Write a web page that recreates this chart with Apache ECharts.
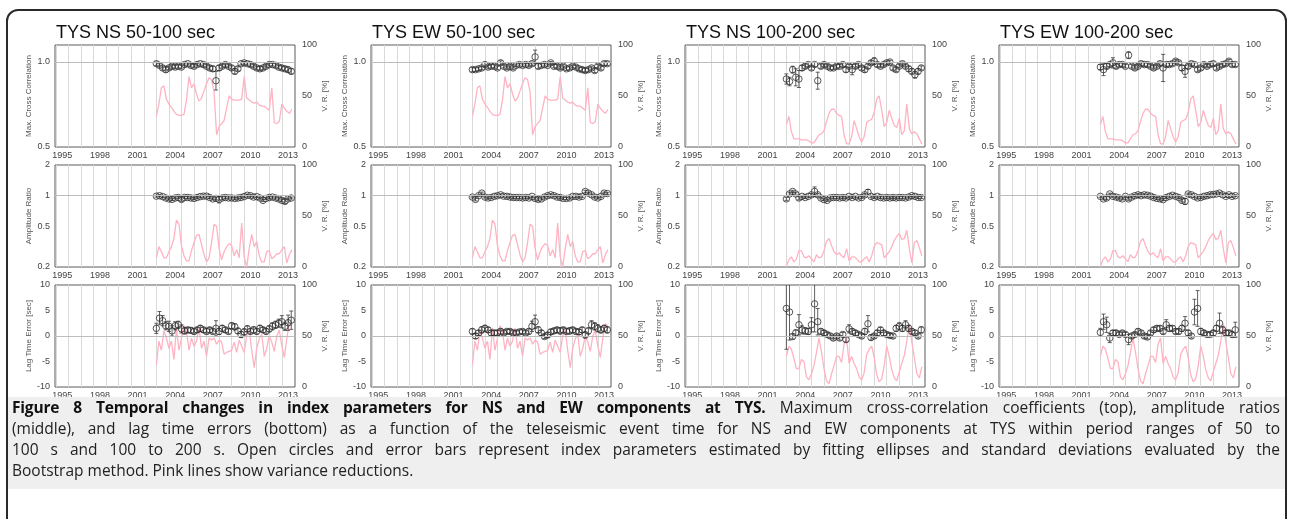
<!DOCTYPE html>
<html>
<head>
<meta charset="utf-8">
<script src="https://cdn.jsdelivr.net/npm/echarts@6/dist/echarts.min.js"></script>
<style>
  html, body { margin: 0; padding: 0; background: #fff; width: 1289px; height: 519px; overflow: hidden; }
  #frame { position: absolute; left: 6px; top: 9px; width: 1281px; height: 620px; border: 2px solid #2a2a2a; border-radius: 12px; box-sizing: border-box; }
  #chart { position: absolute; left: 0; top: 0; width: 1289px; height: 400px; }
  #caption { position: absolute; left: 8px; top: 397px; width: 1277px; height: 92px; background: #efefef;
             font-family: "Open Sans", "Liberation Sans", sans-serif; font-size: 15.5px; line-height: 21px; color: #222;
             box-sizing: border-box; padding: 0 5px 0 4px; }
  #caption div { text-align: justify; text-align-last: justify; white-space: normal; }
  #caption div.last { text-align-last: left; }
  #caption b { color: #111; letter-spacing: -0.2px; }
</style>
</head>
<body>
<div id="frame"></div>
<div id="chart"></div>
<div id="caption">
  <div><b>Figure 8 Temporal changes in index parameters for NS and EW components at TYS.</b> Maximum cross-correlation coefficients (top), amplitude ratios</div>
  <div>(middle), and lag time errors (bottom) as a function of the teleseismic event time for NS and EW components at TYS within period ranges of 50 to</div>
  <div>100 s and 100 to 200 s. Open circles and error bars represent index parameters estimated by fitting ellipses and standard deviations evaluated by the</div>
  <div class="last">Bootstrap method. Pink lines show variance reductions.</div>
</div>
<script>
// ---- time stamps (decimal years) ----
const markTimes = [2002.5,2002.75,2003,2003.25,2003.5,2003.75,2004,2004.25,2004.5,2004.75,2005,2005.25,2005.5,2005.75,2006,2006.25,2006.5,2006.75,2007,2007.25,2007.5,2007.75,2008,2008.25,2008.5,2008.75,2009,2009.25,2009.5,2009.75,2010,2010.25,2010.5,2010.75,2011,2011.25,2011.5,2011.75,2012,2012.25,2012.5,2012.75,2013,2013.25];
const vrTimes = [2002.5,2002.7,2002.9,2003.1,2003.3,2003.5,2003.7,2003.9,2004.1,2004.3,2004.5,2004.7,2004.9,2005.1,2005.3,2005.5,2005.7,2005.9,2006.1,2006.3,2006.5,2006.7,2006.9,2007.1,2007.3,2007.5,2007.7,2007.9,2008.1,2008.3,2008.5,2008.7,2008.9,2009.1,2009.3,2009.5,2009.7,2009.9,2010.1,2010.3,2010.5,2010.7,2010.9,2011.1,2011.3,2011.5,2011.7,2011.9,2012.1,2012.3,2012.5,2012.7,2012.9,2013.1,2013.3];

// ---- axis tick labels ----
const yearLabels = [1995,1998,2001,2004,2007,2010,2013];
const yearGrid = [1994.5,1995.5,1996.5,1997.5,1998.5,1999.5,2000.5,2001.5,2002.5,2003.5,2004.5,2005.5,2006.5,2007.5,2008.5,2009.5,2010.5,2011.5,2012.5];
const ccLabels = [0.5,1.0];
const ampLabels = [0.2,0.5,1,2];

// ---- maximum cross-correlation ----
const ccNs50 = [0.99,0.98,0.965,0.955,0.965,0.975,0.97,0.975,0.97,0.985,0.99,0.98,0.975,0.985,0.99,0.985,0.975,0.965,0.96,0.89,0.965,0.975,0.985,0.975,0.965,0.945,0.96,0.99,0.995,0.99,0.985,0.975,0.965,0.96,0.965,0.975,0.985,0.985,0.98,0.97,0.965,0.96,0.955,0.945];
const ccNs50Err = [0.01,0.01,0.012,0.015,0.01,0.01,0.01,0.01,0.01,0.008,0.008,0.01,0.01,0.008,0.008,0.01,0.01,0.012,0.015,0.055,0.015,0.01,0.01,0.01,0.012,0.015,0.012,0.008,0.008,0.008,0.01,0.01,0.01,0.012,0.01,0.01,0.008,0.008,0.01,0.01,0.012,0.012,0.015,0.015];
const ccEw50 = [0.955,0.955,0.96,0.965,0.985,0.97,0.975,0.975,0.965,0.995,0.975,0.965,0.975,0.965,0.98,0.985,0.98,0.985,0.98,0.99,1.03,0.975,0.98,0.985,0.98,0.995,0.975,0.975,0.965,0.975,0.96,0.965,0.975,0.97,0.96,0.955,0.95,0.955,0.965,0.95,0.975,0.965,0.99,0.99];
const ccEw50Err = [0.012,0.01,0.01,0.01,0.012,0.01,0.01,0.01,0.01,0.012,0.01,0.01,0.01,0.01,0.008,0.008,0.008,0.008,0.01,0.01,0.04,0.015,0.01,0.008,0.008,0.008,0.01,0.01,0.01,0.01,0.01,0.01,0.008,0.01,0.01,0.012,0.012,0.01,0.01,0.012,0.01,0.012,0.01,0.01];
const ccNs100 = [0.9,0.885,0.955,0.91,0.9,0.965,0.975,0.985,0.965,0.985,0.89,0.975,0.985,0.975,0.965,0.965,0.975,0.975,0.985,0.955,0.975,0.955,0.975,0.985,0.965,0.955,0.975,0.995,1.005,0.985,0.975,0.985,0.995,1.0,0.965,0.955,0.975,0.99,0.975,0.96,0.945,0.925,0.945,0.965];
const ccNs100Err = [0.03,0.025,0.02,0.05,0.05,0.015,0.012,0.012,0.012,0.012,0.05,0.012,0.01,0.01,0.01,0.01,0.01,0.01,0.01,0.015,0.01,0.03,0.012,0.01,0.012,0.015,0.012,0.012,0.02,0.012,0.01,0.01,0.01,0.01,0.012,0.012,0.01,0.01,0.01,0.015,0.015,0.02,0.015,0.012];
const ccEw100 = [0.97,0.955,0.975,0.985,0.995,0.975,0.985,0.985,0.975,1.04,0.975,0.965,0.975,0.99,0.985,0.985,0.975,0.965,0.975,0.99,0.965,0.985,0.985,0.99,1.005,0.995,0.965,0.945,0.975,0.99,0.985,0.955,0.965,0.985,0.975,0.985,0.99,0.965,0.975,0.985,0.99,1.005,0.985,0.985];
const ccEw100Err = [0.015,0.035,0.015,0.012,0.03,0.012,0.01,0.01,0.01,0.02,0.01,0.012,0.01,0.01,0.01,0.01,0.01,0.012,0.01,0.01,0.08,0.012,0.01,0.01,0.01,0.01,0.015,0.035,0.012,0.01,0.01,0.012,0.012,0.01,0.01,0.01,0.01,0.012,0.01,0.01,0.01,0.01,0.01,0.012];

// ---- amplitude ratio ----
const ampNs50 = [0.99,1.0,0.98,0.95,0.93,0.92,0.95,0.96,0.92,0.96,0.96,0.95,0.94,0.96,0.98,0.99,0.99,0.96,0.93,0.94,0.92,0.95,0.96,0.95,0.95,0.94,0.95,0.96,0.98,1.01,1.0,0.97,0.98,0.95,0.9,0.94,0.96,0.97,0.95,0.93,0.9,0.88,0.93,0.95];
const ampNs50Err = [0.02,0.02,0.02,0.02,0.02,0.025,0.02,0.02,0.04,0.02,0.02,0.02,0.02,0.02,0.02,0.02,0.02,0.02,0.02,0.03,0.07,0.03,0.02,0.02,0.02,0.02,0.02,0.02,0.02,0.02,0.02,0.02,0.02,0.02,0.025,0.02,0.02,0.02,0.02,0.025,0.03,0.04,0.02,0.02];
const ampEw50 = [0.97,0.92,1.0,1.06,0.97,0.95,0.96,0.985,1.0,1.02,0.99,0.985,0.97,0.96,0.96,0.96,0.95,0.96,0.95,0.985,0.94,0.92,0.93,0.97,1.0,1.02,1.0,0.97,0.96,0.94,0.94,0.95,0.985,0.985,0.97,0.985,1.1,1.06,1.02,0.97,0.95,0.985,1.06,1.05];
const ampEw50Err = [0.02,0.03,0.02,0.025,0.02,0.02,0.02,0.02,0.02,0.02,0.02,0.02,0.02,0.02,0.02,0.02,0.02,0.02,0.02,0.02,0.03,0.03,0.02,0.02,0.02,0.02,0.02,0.02,0.02,0.02,0.02,0.02,0.02,0.02,0.02,0.02,0.03,0.025,0.02,0.02,0.02,0.02,0.025,0.02];
const ampNs100 = [0.93,1.04,1.1,1.04,0.95,0.985,0.96,0.985,1.02,1.1,1.02,0.95,0.915,0.9,0.95,0.96,0.96,0.95,0.96,0.95,0.985,0.96,0.985,0.95,0.96,1.02,1.08,0.985,0.96,0.985,0.96,0.95,0.96,0.95,0.96,0.95,0.96,0.96,0.95,0.97,1.0,0.985,0.96,0.96];
const ampNs100Err = [0.03,0.03,0.03,0.03,0.04,0.02,0.02,0.02,0.03,0.12,0.03,0.02,0.02,0.02,0.02,0.02,0.02,0.02,0.02,0.02,0.02,0.02,0.02,0.02,0.02,0.03,0.07,0.02,0.02,0.02,0.02,0.02,0.02,0.02,0.02,0.02,0.02,0.02,0.02,0.02,0.02,0.02,0.02,0.02];
const ampEw100 = [0.985,0.93,0.95,1.04,0.985,0.97,0.95,0.93,0.985,0.93,0.97,1.0,1.02,1.0,1.02,1.01,0.99,0.96,0.94,0.93,0.915,0.96,0.985,1.01,0.985,0.96,0.9,0.88,1.04,1.02,0.985,0.95,0.96,0.985,1.0,1.02,1.03,1.04,1.06,1.02,0.985,1.02,0.985,1.0];
const ampEw100Err = [0.02,0.02,0.03,0.02,0.02,0.02,0.02,0.02,0.02,0.03,0.02,0.02,0.02,0.02,0.02,0.02,0.02,0.02,0.02,0.02,0.02,0.02,0.02,0.02,0.02,0.02,0.03,0.06,0.02,0.02,0.02,0.02,0.02,0.02,0.02,0.02,0.02,0.02,0.02,0.02,0.02,0.02,0.02,0.02];

// ---- lag time error [sec] ----
const lagNs50 = [1.5,3.5,3.0,2.0,1.9,1.0,2.0,2.2,1.4,1.0,1.2,1.1,0.9,1.2,1.5,1.2,0.9,1.2,0.9,1.5,0.9,1.5,1.2,0.9,2.0,1.8,1.0,0.3,0.8,1.4,0.9,1.2,0.9,1.5,1.2,0.9,1.4,1.9,2.2,2.5,2.8,1.9,2.6,3.1];
const lagNs50Err = [1.0,1.3,1.0,0.8,1.0,1.0,0.8,0.7,0.8,0.6,0.5,0.5,0.5,0.5,0.6,0.5,0.5,0.5,0.5,1.5,0.6,0.6,0.5,0.5,0.6,0.6,0.5,0.6,0.6,0.6,0.5,0.6,0.5,0.6,0.5,0.5,0.6,0.7,0.7,0.8,1.2,0.8,1.5,1.8];
const lagEw50 = [0.9,0.0,0.6,1.2,1.5,1.2,0.6,0.6,0.6,0.9,0.6,0.9,0.9,0.6,0.6,0.8,0.9,0.6,0.9,1.9,2.8,1.2,0.6,-0.1,0.2,0.8,1.0,1.2,1.0,1.2,0.9,1.0,1.2,0.9,0.8,1.2,0.2,1.0,2.2,1.9,1.5,1.2,1.5,1.2];
const lagEw50Err = [0.5,0.5,0.5,0.6,0.6,0.5,0.5,0.5,0.5,0.5,0.4,0.4,0.4,0.4,0.4,0.4,0.4,0.4,0.5,1.0,1.3,0.6,0.5,0.4,0.5,0.5,0.5,0.5,0.6,0.5,0.5,0.6,0.5,0.5,0.5,0.5,0.6,0.6,0.8,0.7,0.7,0.6,0.6,0.6];
const lagNs100 = [5.4,4.7,-0.1,0.6,2.2,1.2,1.0,0.9,2.2,6.3,2.8,0.9,0.6,0.3,0.0,-0.4,0.0,-0.4,0.3,-0.7,1.4,0.9,0.6,0.3,0.0,0.9,2.4,-0.3,0.0,0.6,1.2,0.6,0.3,0.1,0.0,1.5,1.9,1.5,2.2,1.5,0.9,0.6,0.0,1.2];
const lagNs100Err = [8.0,5.5,0.5,0.6,2.0,0.8,0.6,0.6,1.4,5.5,2.6,0.5,0.5,0.4,0.4,0.4,0.4,0.4,0.4,0.5,0.8,0.5,0.5,0.4,0.4,0.6,1.6,0.5,0.4,0.5,0.5,0.5,0.4,0.4,0.4,0.6,0.7,0.6,0.8,0.6,0.5,0.5,0.4,0.6];
const lagEw100 = [0.7,2.8,2.2,-0.4,0.6,0.6,0.3,0.6,0.3,-0.7,0.0,0.3,0.9,0.6,0.0,-0.2,0.6,1.2,1.5,1.5,0.9,2.2,1.5,1.5,0.9,0.9,1.5,2.5,0.6,0.0,4.7,5.4,0.9,0.6,0.3,0.3,0.6,1.5,2.5,1.2,0.6,0.6,0.3,1.2];
const lagEw100Err = [0.8,1.5,1.5,0.9,0.5,0.5,0.4,0.4,0.4,1.0,0.4,0.4,0.5,0.4,0.4,0.4,0.4,0.5,0.5,0.5,0.5,1.0,0.6,0.5,0.5,0.5,0.6,1.3,0.5,0.4,2.5,3.5,0.6,0.5,0.4,0.4,0.5,0.6,2.0,0.6,0.5,0.5,0.5,1.5];

// ---- variance reduction [%] (pink lines) ----
const vr50Cc  = [30,42,58,60,47,42,39,35,32,31,31,32,46,69,58,62,52,45,48,55,62,68,66,54,12,20,23,26,38,50,47,46,46,46,47,69,48,46,44,43,44,41,40,40,38,36,58,24,23,25,42,38,35,33,37];
const vr50Amp = [9,20,15,9,9,15,20,28,46,42,21,11,6,6,16,24,31,32,22,12,5,9,24,42,40,18,7,15,20,23,21,11,17,9,43,10,0,18,32,20,25,11,5,5,15,16,8,10,13,13,17,20,4,12,17];
const vr50Lag = [22,45,36,55,48,38,45,27,58,36,48,60,55,36,48,40,45,58,38,45,30,48,46,48,42,46,44,32,34,35,36,44,34,46,40,34,50,56,36,19,38,47,52,30,38,50,44,35,50,56,40,29,48,62,60];
const vr100Cc  = [22,30,15,8,8,8,7,7,7,6,4,4,8,12,13,16,25,33,37,37,33,31,30,12,3,3,10,26,18,10,5,10,24,26,27,34,47,50,36,20,24,36,28,21,19,28,12,16,42,18,13,15,13,8,3];
const vr100Amp = [1,7,10,5,8,16,16,10,9,11,8,5,12,9,10,16,25,28,21,15,12,14,11,9,18,6,10,10,8,5,5,8,10,5,11,20,24,23,22,9,12,15,20,26,30,33,27,28,36,18,4,24,26,19,11];
const vr100Lag = [30,40,37,28,18,18,27,25,10,7,13,21,34,48,34,18,6,3,13,21,30,30,24,42,48,23,30,23,18,10,7,14,32,37,40,29,12,5,8,21,40,30,17,9,6,15,23,31,45,62,44,29,13,9,20];

const panelTitles = ['TYS NS 50-100 sec', 'TYS EW 50-100 sec', 'TYS NS 100-200 sec', 'TYS EW 100-200 sec'];

const columns = [
  { rows: [[ccNs50, ccNs50Err], [ampNs50, ampNs50Err], [lagNs50, lagNs50Err]], vr: [vr50Cc, vr50Amp, vr50Lag] },
  { rows: [[ccEw50, ccEw50Err], [ampEw50, ampEw50Err], [lagEw50, lagEw50Err]], vr: [vr50Cc, vr50Amp, vr50Lag] },
  { rows: [[ccNs100, ccNs100Err], [ampNs100, ampNs100Err], [lagNs100, lagNs100Err]], vr: [vr100Cc, vr100Amp, vr100Lag] },
  { rows: [[ccEw100, ccEw100Err], [ampEw100, ampEw100Err], [lagEw100, lagEw100Err]], vr: [vr100Cc, vr100Amp, vr100Lag] }
];

// layout
const colLeft = [55, 371, 685, 999];
const plotW = 240;
const rowTop = [45, 165, 285];
const rowH = [102, 102, 104];

const FONT = 'Liberation Sans';
const log10 = Math.log10;

// left axis settings per row; amplitude ratios are placed on a log10 scale
const rowCfg = [
  { name: 'Max. Cross Correlation', min: 0.5, max: 1.1, custom: ccLabels, fmt: v => v.toFixed(1), ref: 1, tf: v => v },
  { name: 'Amplitude Ratio', min: log10(0.2), max: log10(2), custom: ampLabels.map(log10),
    fmt: v => String(+Math.pow(10, v).toPrecision(1)), ref: 0, tf: log10 },
  { name: 'Lag Time Error [sec]', min: -10, max: 10, interval: 5, fmt: v => String(v), ref: 0, tf: v => v }
];

function errorBar(params, api) {
  const x = api.value(0);
  const pLo = api.coord([x, api.value(1)]);
  const pHi = api.coord([x, api.value(2)]);
  const cap = 2;
  const style = { stroke: '#3a3a3a', lineWidth: 0.8, fill: null };
  return {
    type: 'group',
    children: [
      { type: 'line', shape: { x1: pLo[0], y1: pLo[1], x2: pHi[0], y2: pHi[1] }, style },
      { type: 'line', shape: { x1: pLo[0] - cap, y1: pLo[1], x2: pLo[0] + cap, y2: pLo[1] }, style },
      { type: 'line', shape: { x1: pHi[0] - cap, y1: pHi[1], x2: pHi[0] + cap, y2: pHi[1] }, style }
    ]
  };
}

const grid = [], xAxis = [], yAxis = [], series = [], title = [];

columns.forEach((col, c) => {
  title.push({
    text: panelTitles[c], left: colLeft[c] + 1, top: 24, padding: 0,
    textStyle: { fontFamily: FONT, fontSize: 18, fontWeight: 'normal', color: '#111' }
  });
  col.rows.forEach((pair, r) => {
    const p = c * 3 + r;
    const cfg = rowCfg[r];
    const [vals, errs] = pair;
    grid.push({ left: colLeft[c], top: rowTop[r], width: plotW, height: rowH[r],
                show: true, borderColor: '#5a5a5a', borderWidth: 1, containLabel: false });
    xAxis.push({
      type: 'value', gridIndex: p, min: 1994.42, max: 2013.55,
      axisLine: { show: false },
      axisTick: { show: false, customValues: yearGrid },
      axisLabel: { customValues: yearLabels, formatter: v => String(Math.round(v)),
                   fontFamily: FONT, fontSize: 9, color: '#444', margin: 4 },
      splitLine: { show: true, lineStyle: { color: '#d9d9d9', width: 1 } }
    });
    const left = {
      type: 'value', gridIndex: p, position: 'left', min: cfg.min, max: cfg.max,
      name: cfg.name, nameLocation: 'middle', nameRotate: 90, nameGap: r === 2 ? 18 : 22,
      nameTextStyle: { fontFamily: FONT, fontSize: 8, color: '#555' },
      axisLine: { show: false }, axisTick: { show: false },
      axisLabel: { formatter: cfg.fmt, fontFamily: FONT, fontSize: 9, color: '#444', margin: 5 },
      splitLine: { show: false }
    };
    if (cfg.interval) left.interval = cfg.interval;
    if (cfg.custom) left.axisLabel.customValues = cfg.custom;
    yAxis.push(left);
    yAxis.push({
      type: 'value', gridIndex: p, position: 'right', min: 0, max: 100, interval: 50,
      name: 'V. R. [%]', nameLocation: 'middle', nameRotate: 90, nameGap: 26,
      nameTextStyle: { fontFamily: FONT, fontSize: 8, color: '#555' },
      axisLine: { show: false }, axisTick: { show: false },
      axisLabel: { fontFamily: FONT, fontSize: 9, color: '#444', margin: 7 },
      splitLine: { show: false }
    });

    // variance reduction
    series.push({
      type: 'line', xAxisIndex: p, yAxisIndex: 2 * p + 1, z: 1,
      data: vrTimes.map((t, i) => [t, col.vr[r][i]]),
      showSymbol: false, symbol: 'none', silent: true,
      lineStyle: { color: '#ffb3c2', width: 1.3 }
    });
    // error bars
    series.push({
      type: 'custom', xAxisIndex: p, yAxisIndex: 2 * p, z: 2, clip: true, silent: true,
      renderItem: errorBar,
      encode: { x: 0, y: [1, 2] },
      data: markTimes.map((t, i) => [t, cfg.tf(vals[i] - errs[i]), cfg.tf(vals[i] + errs[i])])
    });
    // open circles
    series.push({
      type: 'scatter', xAxisIndex: p, yAxisIndex: 2 * p, z: 3, silent: true,
      symbol: 'circle', symbolSize: 6.5,
      itemStyle: { color: 'rgba(255,255,255,0)', borderColor: '#2e2e2e', borderWidth: 1 },
      data: markTimes.map((t, i) => [t, cfg.tf(vals[i])]),
      markLine: {
        silent: true, symbol: 'none', label: { show: false },
        lineStyle: { color: '#bdbdbd', width: 1, type: 'solid' },
        data: [{ yAxis: cfg.ref }]
      }
    });
  });
});

const chart = echarts.init(document.getElementById('chart'), null, { renderer: 'canvas' });
chart.setOption({ animation: false, backgroundColor: 'transparent', title, grid, xAxis, yAxis, series });
</script>
</body>
</html>
